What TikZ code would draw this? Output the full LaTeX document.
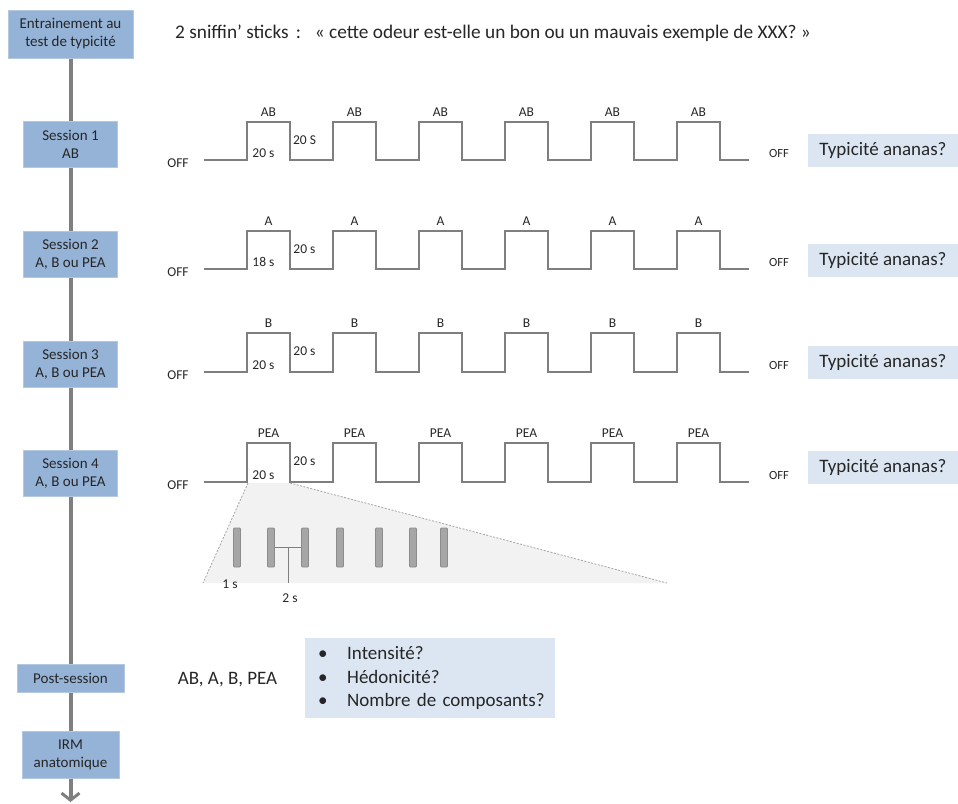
\documentclass[tikz,border=0pt]{standalone}
\usepackage{fontspec}
\setmainfont{Carlito}
\usetikzlibrary{arrows.meta,positioning,calc}
\definecolor{ink}{HTML}{262626}
\definecolor{steel}{HTML}{95B3D7}
\definecolor{steelline}{HTML}{B4C8E1}
\definecolor{pale}{HTML}{DCE6F2}
\definecolor{wire}{HTML}{7F7F7F}
\definecolor{fog}{HTML}{F2F2F2}
\definecolor{barfill}{HTML}{A6A6A6}
\tikzset{
  stage/.style={draw=steelline,line width=1pt,fill=steel,text=ink,align=center,
                inner sep=0pt,font=\fontsize{15}{18}\selectfont},
  spine/.style={draw=wire,line width=4pt},
  wave/.style={draw=wire,line width=1.3pt},
  tag/.style={text=ink,inner sep=0pt,font=\fontsize{13.5}{15}\selectfont},
  question/.style={fill=pale,text=ink,minimum width=150pt,minimum height=33pt,
                   inner sep=0pt,font=\fontsize{19}{22}\selectfont},
  panel/.style={fill=pale,text=ink,align=left,text width=236pt,inner xsep=7pt,
                minimum height=80pt,font=\fontsize{19}{23.5}\selectfont},
  puff/.style={draw=wire!90,fill=barfill,line width=0.8pt,minimum width=7pt,
               minimum height=39pt,inner sep=0pt,rounded corners=1pt},
  guide/.style={draw=wire!70,line width=0.8pt,dash pattern=on 2pt off 1.5pt},
  big/.style={text=ink,inner sep=0pt,font=\fontsize{19}{24}\selectfont},
}
\newcommand{\dotitem}{\makebox[35pt][l]{\hspace{6pt}•}}

\begin{document}
\begin{tikzpicture}[x=1pt,y=-1pt]
  \useasboundingbox (0,0) rectangle (958,803);
  % stages of the protocol
  \node[stage,minimum width=125pt,minimum height=48pt] (train) at (70.5,34)
    {Entrainement au\\test de typicité};
  \node[stage,minimum width=94pt,minimum height=46pt] (s1) at (70.5,144) {Session 1\\AB};
  \node[stage,minimum width=94pt,minimum height=46pt] (s2) at (70.5,254) {Session 2\\A, B ou PEA};
  \node[stage,minimum width=94pt,minimum height=46pt] (s3) at (70.5,364) {Session 3\\A, B ou PEA};
  \node[stage,minimum width=94pt,minimum height=46pt] (s4) at (70.5,473.5) {Session 4\\A, B ou PEA};
  \node[stage,minimum width=107pt,minimum height=28pt] (post) at (70.5,678) {Post-session};
  \node[stage,minimum width=97pt,minimum height=47pt] (irm) at (70.5,754.5) {IRM\\anatomique};
  \coordinate (end) at (70.5,802);
  \draw[spine] (train) -- (s1);
  \draw[spine] (s1) -- (s2);
  \draw[spine] (s2) -- (s3);
  \draw[spine] (s3) -- (s4);
  \draw[spine] (s4) -- (post);
  \draw[spine] (post) -- (irm);
  \draw[spine,-{Straight Barb[length=7pt,width=18pt,line width=3pt]}] (irm) -- (end);

  \node[big,anchor=west,font=\fontsize{19.3}{24}\selectfont] (prompt) at (175,33)
    {2 sniffin’ sticks\hspace{7pt}:\hspace{14pt}« cette odeur est-elle un bon ou un mauvais exemple de XXX? »};

  % zoom on one stimulation block
  \coordinate (zl) at (248,483);
  \coordinate (zr) at (290,483);
  \coordinate (zbr) at (667,583);
  \coordinate (zbl) at (203,583);
  \fill[fog] (zl) -- (zr) -- (zbr) -- (zbl) -- cycle;
  \draw[guide] (zl) -- (zbl);
  \draw[guide] (zr) -- (zbr);
  \foreach \i/\x in {1/237,2/271,3/305,4/340,5/379,6/413,7/444}
    \node[puff] (bar\i) at (\x,547.5) {};
  \coordinate (mid) at ($(bar2.east)!0.5!(bar3.west)$);
  \draw[wave,line width=0.9pt] (bar2.east) -- (bar3.west);
  \draw[wave,line width=0.9pt] (mid) -- ++(0,35);
  \node[tag] (one) at (230,584) {1 s};
  \node[tag] (two) at (290,598) {2 s};

  % on/off sequences
  \foreach \s/\yb/\yh/\lbl/\inner/\gap/\ty in
    {1/160/122/AB/20 s/20 S/150.5, 2/269/231/A/18 s/20 s/260.5,
     3/372/333/B/20 s/20 s/362.5, 4/482/443/PEA/20 s/20 s/467}{
    \draw[wave] (204,\yb) foreach \k in {0,...,5}{
      -- ({247+86*\k},\yb) |- ({290+86*\k},\yh) -- ({290+86*\k},\yb) } -- (749,\yb);
    \foreach \k in {0,...,5}
      \node[tag] (l\s-\k) at ({268.5+86*\k},{\yh-10}) {\lbl};
    \node[tag] (off\s) at (178,{\yb+3}) {OFF};
    \node[tag,font=\fontsize{12.5}{14}\selectfont] (offr\s) at (779,{\yb-7}) {OFF};
    \node[question] (typ\s) at (883,\ty) {Typicité ananas?};
    \node[tag] (in\s) at (263.5,{\yb-7}) {\inner};
    \node[tag] (gap\s) at (304.5,{\yh+18}) {\gap};
  }

  % post-session ratings
  \node[big] (odours) at (227.5,680) {AB, A, B, PEA};
  \node[panel,anchor=north west] (ask) at (305,638)
    {\dotitem Intensité?\\
     \dotitem Hédonicité?\\
     \dotitem Nombre de composants?};
\end{tikzpicture}
\end{document}
